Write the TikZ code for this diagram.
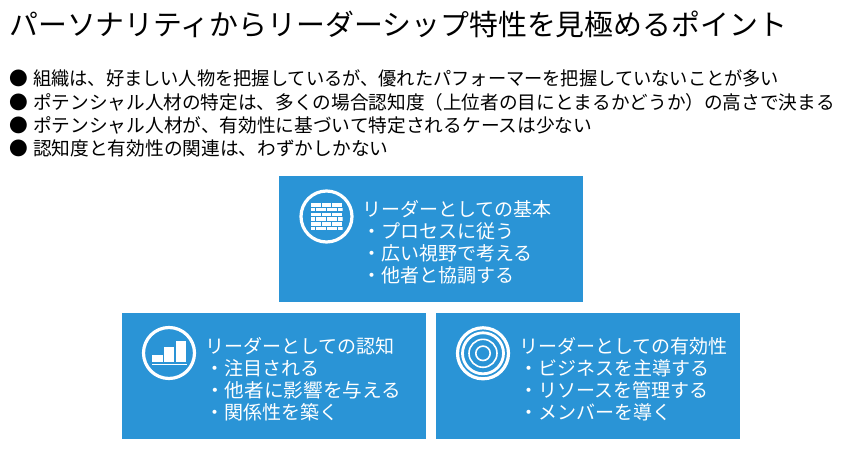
\documentclass[tikz,border=0pt]{standalone}
\usepackage{fontspec}
\setmainfont{Noto Sans CJK JP}
\definecolor{boxblue}{HTML}{2A94D6}
\tikzset{
 px/.style={x=1pt,y=-1pt},
 panel/.style={fill=boxblue,draw=none,minimum width=304pt,minimum height=126pt,anchor=north west,inner sep=0pt},
 body/.style={anchor=west,inner sep=0pt,font=\fontsize{18.7}{18.7}\selectfont},
 wtext/.style={anchor=north west,inner sep=0pt,text=white,align=left,font=\fontsize{19}{22}\selectfont},
 ring/.style={draw=white,line width=3.2pt,fill=none},
 iconline/.style={draw=white,line width=1.6pt}
}
\begin{document}
\begin{tikzpicture}[px]
\useasboundingbox (0,0) rectangle (862,450);
\node[anchor=west,inner sep=0pt,font=\fontsize{28.9}{28.9}\selectfont] (title) at (9,24) {パーソナリティからリーダーシップ特性を見極めるポイント};
\node[body] (b1) at (9,78) {●\hspace{0.28em}\scalebox{0.975}[1]{組織は、好ましい人物を把握しているが、優れたパフォーマーを把握していないことが多い}};
\node[body] (b2) at (9,102) {●\hspace{0.28em}\scalebox{0.997}[1]{ポテンシャル人材の特定は、多くの場合認知度（上位者の目にとまるかどうか）の高さで決まる}};
\node[body] (b3) at (9,125) {●\hspace{0.28em}ポテンシャル人材が、有効性に基づいて特定されるケースは少ない};
\node[body] (b4) at (9,148) {●\hspace{0.28em}認知度と有効性の関連は、わずかしかない};
\node[panel] (p1) at (279,176) {};
\node[panel] (p2) at (122,313) {};
\node[panel] (p3) at (436,313) {};
\node[wtext] (t1) at (362,200) {リーダーとしての基本\\ ・プロセスに従う\\ ・広い視野で考える\\ ・他者と協調する};
\node[wtext] (t2) at (205,337) {リーダーとしての認知\\ ・注目される\\ \scalebox{1.035}[1]{・他者に影響を与える}\\ ・関係性を築く};
\node[wtext] (t3) at (519,337) {リーダーとしての有効性\\ ・ビジネスを主導する\\ ・リソースを管理する\\ ・メンバーを導く};
% brick wall icon
\draw[ring] (326.5,216.5) circle (25.5);
\begin{scope}
\clip (311,203) rectangle (342.5,231);
\foreach \r/\o in {0/0,1/1,2/0,3/1,4/0,5/1}{
  \foreach \c in {0,1,2,3}{
    \fill[white] ({311+\c*10.7-\o*5.3},{203.3+\r*4.7}) rectangle ++(9.5,3.4);
  }
}
\end{scope}
% bar chart icon
\draw[ring] (169,353) circle (25.5);
\fill[white] (152,354.7) rectangle (162.6,362);
\fill[white] (164,347) rectangle (174.3,362);
\fill[white] (175.7,341.3) rectangle (186,362);
\draw[iconline] (152,364.6) -- (187,364.6);
% target icon
\draw[ring] (483,353.3) circle (25.5);
\draw[draw=white,line width=2.8pt] (483,353.3) circle (20.5);
\draw[draw=white,line width=1.6pt] (483,353.3) circle (14);
\draw[draw=white,line width=1.6pt] (483,353.3) circle (7.2);
\end{tikzpicture}
\end{document}
